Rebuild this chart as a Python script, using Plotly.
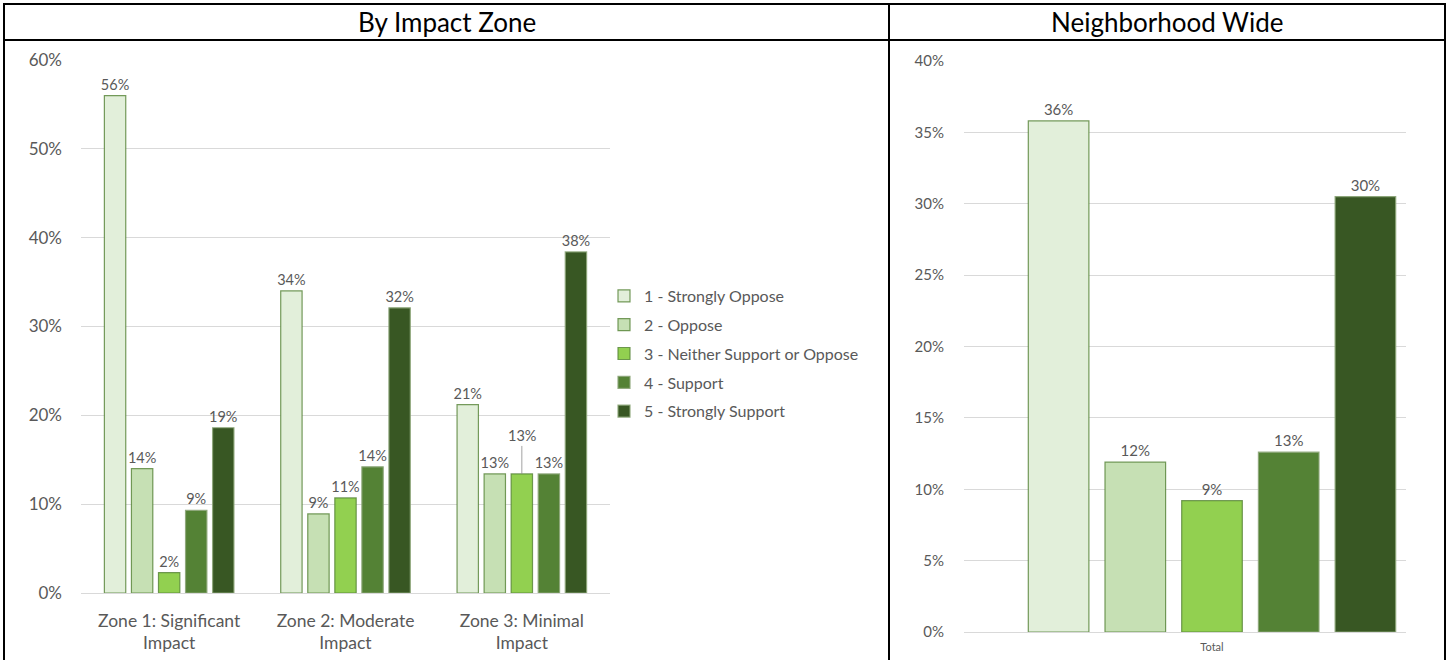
import plotly.graph_objects as go

W, H = 1450, 660

zones = ["Zone 1: Significant<br>Impact", "Zone 2: Moderate<br>Impact", "Zone 3: Minimal<br>Impact"]
series_names = ["1 - Strongly Oppose", "2 - Oppose", "3 - Neither Support or Oppose", "4 - Support", "5 - Strongly Support"]
zone_values = [
    [0.56, 0.34, 0.212],
    [0.14, 0.089, 0.134],
    [0.023, 0.107, 0.134],
    [0.093, 0.142, 0.134],
    [0.186, 0.321, 0.384],
]
total_category = ["Total"]
total_values = [0.358, 0.119, 0.092, 0.126, 0.305]

colors = ["#E2EFDA", "#C6E0B4", "#92D050", "#548235", "#385723"]
borders = ["rgba(84,130,53,0.8)", "rgba(84,130,53,0.8)", "rgba(84,130,53,0.8)",
           "rgba(140,165,120,0.9)", "rgba(140,165,120,0.9)"]

FONT = "Lato, Calibri, Open Sans, sans-serif"
GRAY = "#595959"

fig = go.Figure()

for i, name in enumerate(series_names):
    texts = [f"{v*100:.0f}%" for v in zone_values[i]]
    if i == 2:
        texts[2] = ""
    fig.add_trace(go.Bar(
        x=zones, y=zone_values[i], name=name, legendgroup=name,
        marker=dict(color=colors[i], line=dict(color=borders[i], width=1.2)),
        text=texts, textposition="outside", cliponaxis=False, constraintext="none",
        textfont=dict(size=14.5, color=GRAY, family=FONT),
        xaxis="x", yaxis="y",
    ))

for i, name in enumerate(series_names):
    fig.add_trace(go.Bar(
        x=total_category, y=[total_values[i]], name=name, legendgroup=name,
        showlegend=False,
        marker=dict(color=colors[i], line=dict(color=borders[i], width=1.2)),
        text=[f"{total_values[i]*100:.0f}%"], textposition="outside", cliponaxis=False,
        constraintext="none",
        textfont=dict(size=15, color=GRAY, family=FONT),
        xaxis="x2", yaxis="y2",
    ))

# leader-line label for Zone 3 middle bar
fig.add_annotation(
    x=2, y=zone_values[2][2], xref="x", yref="y",
    text=f"{zone_values[2][2]*100:.0f}%", showarrow=True, arrowhead=0,
    arrowwidth=0.8, arrowcolor="#8c8c8c", ax=0, ay=-38,
    font=dict(size=14.5, color=GRAY, family=FONT),
)

def px_x(p):
    return p / W

def px_y(p):
    return 1 - p / H

fig.update_layout(
    width=W, height=H,
    margin=dict(l=0, r=0, t=0, b=0, autoexpand=False),
    paper_bgcolor="white", plot_bgcolor="white",
    barmode="group", bargap=0.233, bargroupgap=0.21,
    font=dict(family=FONT, color=GRAY),
    showlegend=True,
    legend=dict(x=px_x(604), y=px_y(279), xanchor="left", yanchor="top",
                font=dict(size=16, color=GRAY, family=FONT),
                traceorder="grouped", tracegroupgap=5,
                bgcolor="rgba(0,0,0,0)"),
    xaxis=dict(domain=[px_x(81), px_x(610)], anchor="y", automargin=False,
               tickfont=dict(size=17.5, color=GRAY, family=FONT),
               showgrid=False, ticks="", showline=False, ticklabelstandoff=15),
    yaxis=dict(domain=[px_y(593), px_y(60)], anchor="x", range=[0, 0.6], automargin=False,
               tickvals=[0, 0.1, 0.2, 0.3, 0.4, 0.5, 0.6], tickformat=".0%",
               tickfont=dict(size=17, color=GRAY, family=FONT),
               showgrid=True, gridcolor="#D9D9D9", gridwidth=1,
               zeroline=True, zerolinecolor="#D9D9D9", zerolinewidth=1,
               ticklabelstandoff=18, showline=False),
    xaxis2=dict(domain=[px_x(964), px_x(1406)], anchor="y2", automargin=False,
                range=[-0.496, 0.388],
                tickfont=dict(size=11, color=GRAY, family=FONT),
                showgrid=False, ticks="", showline=False, ticklabelstandoff=7),
    yaxis2=dict(domain=[px_y(632), px_y(61)], anchor="x2", range=[0, 0.4], automargin=False,
                tickvals=[0, 0.05, 0.1, 0.15, 0.2, 0.25, 0.3, 0.35, 0.4], tickformat=".0%",
                tickfont=dict(size=15, color=GRAY, family=FONT),
                showgrid=True, gridcolor="#D9D9D9", gridwidth=1,
                zeroline=True, zerolinecolor="#D9D9D9", zerolinewidth=1,
                ticklabelstandoff=19, showline=False),
)

# table borders
lw = 2
line = dict(color="black", width=lw)
for x in [4, 889, 1445]:
    fig.add_shape(type="line", xref="paper", yref="paper",
                  x0=px_x(x), x1=px_x(x), y0=px_y(3), y1=px_y(662), line=line)
for y in [4, 40]:
    fig.add_shape(type="line", xref="paper", yref="paper",
                  x0=px_x(3), x1=px_x(1446), y0=px_y(y), y1=px_y(y), line=line)

fig.add_annotation(xref="paper", yref="paper", x=px_x(447), y=px_y(22),
                   xanchor="center", yanchor="middle",
                   text="By Impact Zone", showarrow=False,
                   font=dict(size=26, color="black", family=FONT))
fig.add_annotation(xref="paper", yref="paper", x=px_x(1167), y=px_y(22),
                   xanchor="center", yanchor="middle",
                   text="Neighborhood Wide", showarrow=False,
                   font=dict(size=26, color="black", family=FONT))

fig.write_html("out.html", config={"displayModeBar": False},
               post_script="document.body.style.margin='0px';document.body.style.overflow='hidden';")
